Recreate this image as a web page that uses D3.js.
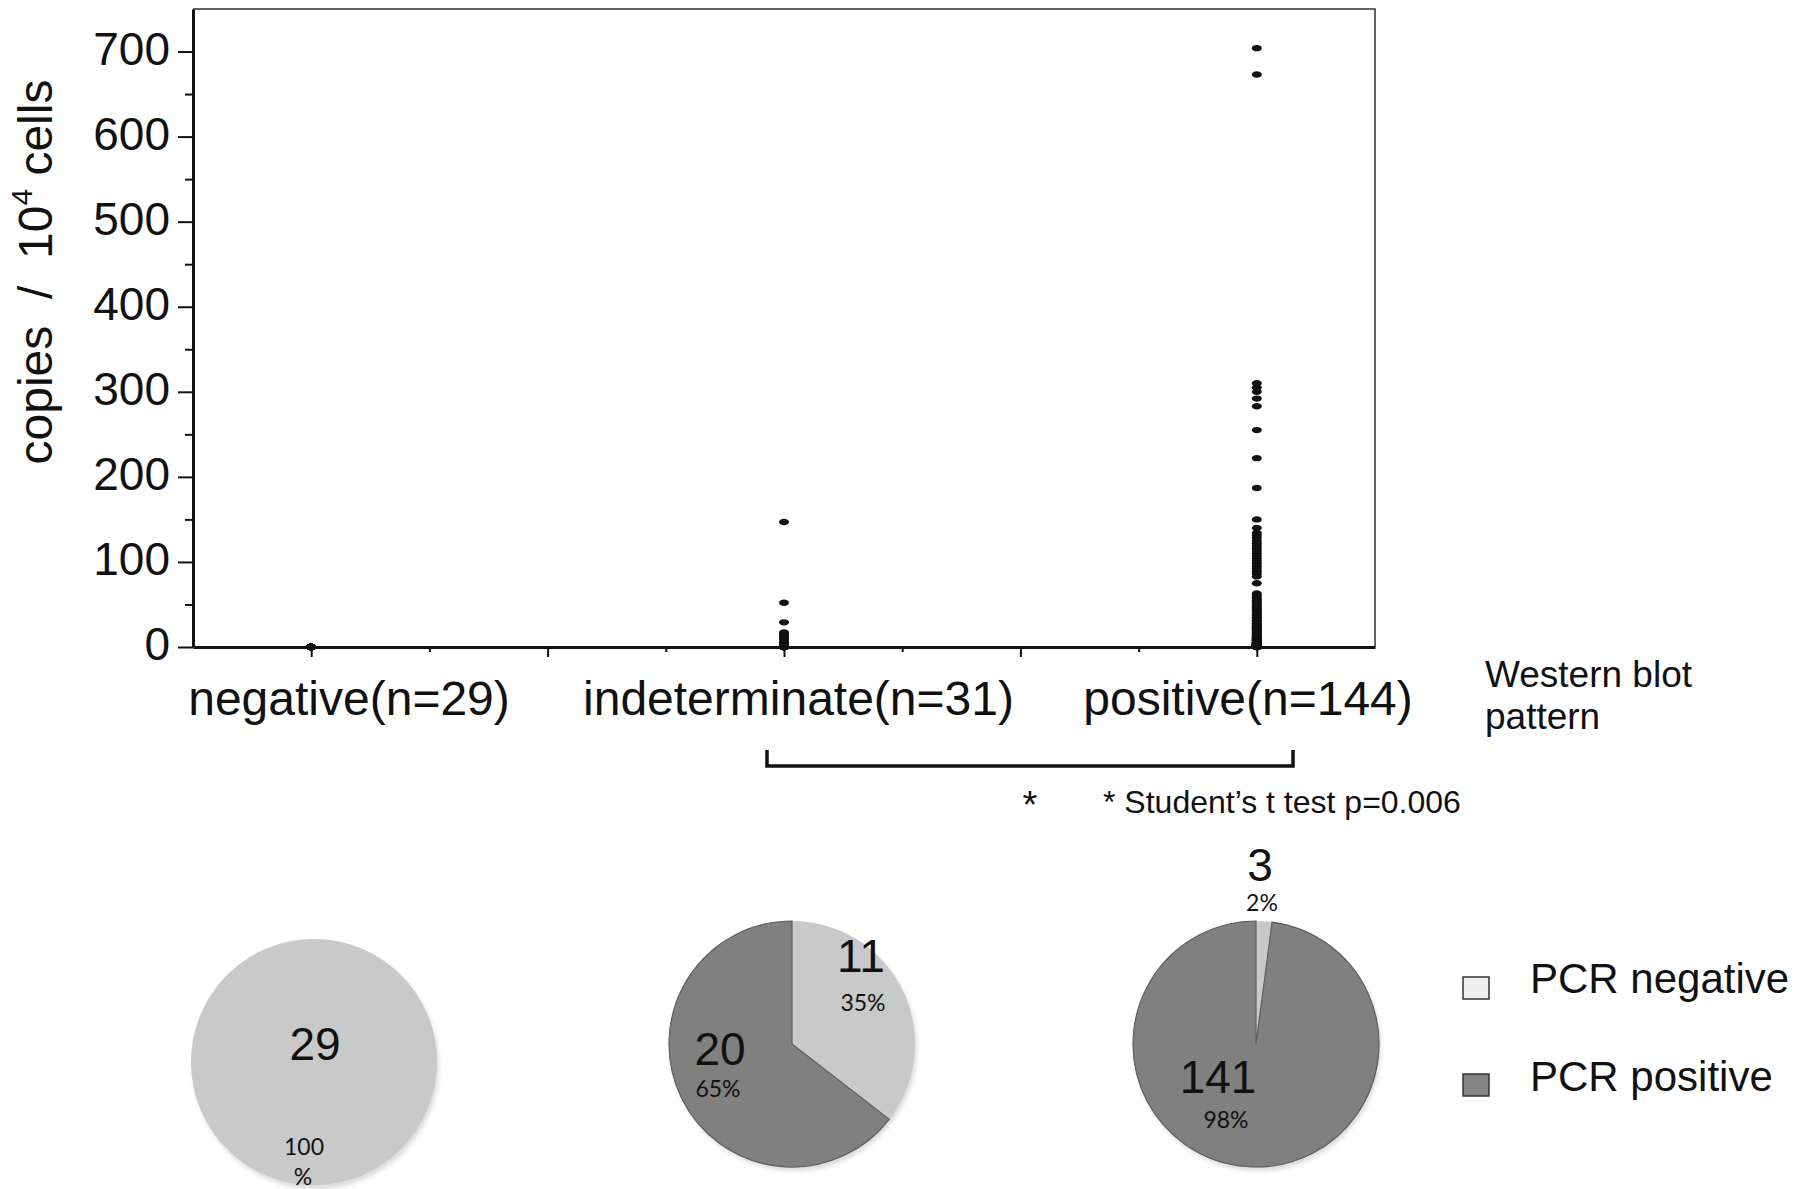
<!DOCTYPE html>
<html>
<head>
<meta charset="utf-8">
<script src="https://cdn.jsdelivr.net/npm/d3@7"></script>
<style>
  body { margin: 0; background: #fff; }
  text { font-family: "Liberation Sans", Arial, sans-serif; fill: #111; }
  .pct { font-family: Lato, "Open Sans", sans-serif; }
</style>
</head>
<body>
<svg id="chart" width="1815" height="1189"></svg>
<script>
// ---- data ----
const categories = ["negative(n=29)", "indeterminate(n=31)", "positive(n=144)"];
const yTickValues = [0, 100, 200, 300, 400, 500, 600, 700];

// copies / 10^4 cells, one entry per sample
const negativeValues = [0,0,0,0,0,0,0,0,0,0,0,0,0,0,0,0,0,0,0,0,0,0,0,0,0,0,0,0,0];
const indeterminateValues = [147, 52, 29, 17, 15, 13, 11, 9, 7, 5, 4, 3, 2, 2, 1, 1, 0.5, 0.5, 0.2, 0.1,
                             0,0,0,0,0,0,0,0,0,0,0];
const positiveValues = [704, 673, 310, 305, 300, 292, 283, 255, 222, 187, 150, 140,
  134, 131, 128, 125, 122, 119, 116, 113, 110, 107, 104, 101, 98, 95, 92, 89, 86, 83, 75,
  63, 61, 59, 57, 55, 53, 52, 50, 48, 46, 45, 43, 41, 40, 38, 37, 35, 34, 32, 31, 30, 28,
  27, 26, 25, 24, 23, 22, 21, 20, 19, 18, 17, 16, 15, 14, 13, 12, 12, 11, 11, 10, 10, 9, 9,
  8, 8, 7, 7, 7, 6, 6, 6, 5, 5, 5, 5, 4, 4, 4, 4, 3, 3, 3, 3, 3, 2, 2, 2, 2, 2, 2,
  1.5, 1.5, 1.5, 1.5, 1, 1, 1, 1, 1, 1, 1, 0.8, 0.8, 0.8, 0.6, 0.6, 0.6, 0.5, 0.5, 0.5,
  0.4, 0.4, 0.4, 0.3, 0.3, 0.3, 0.2, 0.2, 0.2, 0.1, 0.1, 0.1, 0.1, 0.05, 0.05, 0, 0, 0];

// PCR result per western blot group
const pcrNegative = [29, 11, 3];
const pcrPositive = [0, 20, 141];
const pctNegative = [["100", "%"], ["35%"], ["2%"]];
const pctPositive = [[], ["65%"], ["98%"]];
const legendLabels = ["PCR negative", "PCR positive"];

// ---- layout ----
const svg = d3.select("#chart");
const plot = {left: 193, right: 1375, top: 9, bottom: 647};
const lightGray = "#c9c9c9", darkGray = "#808080";

let x = d3.scaleLinear().domain([0.75, 3.25]).range([plot.left, plot.right]);
let y = d3.scaleLinear().domain([0, 750]).range([plot.bottom, plot.top]);

// frame (thin top + right)
svg.append("path")
   .attr("d", `M${plot.left},${plot.top}H${plot.right}V${plot.bottom}`)
   .attr("fill", "none").attr("stroke", "#333").attr("stroke-width", 1.5);

// y axis
let yAxis = svg.append("g").attr("transform", `translate(${plot.left},0)`)
   .call(d3.axisLeft(y).tickValues(yTickValues).tickSize(15).tickPadding(8).tickSizeOuter(0));
yAxis.selectAll("text").attr("font-size", 46).attr("font-family", "Liberation Sans, Arial, sans-serif")
     .attr("dy", "0.28em").attr("fill", "#111");
svg.append("g").attr("transform", `translate(${plot.left},0)`)
   .call(d3.axisLeft(y).tickValues(d3.range(50, 700, 100)).tickSize(8).tickFormat("").tickSizeOuter(0))
   .select(".domain").remove();

// x axis
svg.append("g").attr("transform", `translate(0,${plot.bottom})`)
   .call(d3.axisBottom(x).tickValues([1, 1.5, 2, 2.5, 3]).tickSize(10).tickFormat("").tickSizeOuter(0));
svg.append("g").attr("transform", `translate(0,${plot.bottom})`)
   .call(d3.axisBottom(x).tickValues([1.25, 1.75, 2.25, 2.75]).tickSize(5).tickFormat("").tickSizeOuter(0))
   .select(".domain").remove();
svg.selectAll(".domain").attr("stroke", "#111").attr("stroke-width", 3);
svg.selectAll(".tick line").attr("stroke", "#111").attr("stroke-width", 2);

// x labels
let xl = d3.scalePoint().domain(categories).range([349, 1248]);
svg.selectAll(".xlab").data(categories).enter().append("text")
   .attr("class", "xlab")
   .attr("x", d => xl(d)).attr("y", 715)
   .attr("text-anchor", "middle").attr("font-size", 48)
   .text(d => d);

svg.append("text").attr("x", 1485).attr("y", 687).attr("font-size", 37).text("Western blot");
svg.append("text").attr("x", 1485).attr("y", 729).attr("font-size", 37).text("pattern");

// y title
let yt = svg.append("text")
   .attr("transform", "translate(52,272) rotate(-90)")
   .attr("text-anchor", "middle").attr("font-size", 48);
yt.append("tspan").text("copies\u00a0\u00a0/\u00a0\u00a010");
yt.append("tspan").attr("font-size", 30).attr("dy", -20).text("4");
yt.append("tspan").attr("dy", 20).text("\u00a0cells");

// scatter points
let points = [];
[negativeValues, indeterminateValues, positiveValues].forEach(function(vals, i) {
    vals.forEach(function(v) { points.push({g: i + 1, v: v}); });
});
svg.append("g").selectAll("ellipse").data(points).enter().append("ellipse")
   .attr("cx", d => x(d.g)).attr("cy", d => y(d.v))
   .attr("rx", 5).attr("ry", 3.2).attr("fill", "#111");

// bracket + significance
svg.append("path").attr("d", "M767,750V766H1293V750")
   .attr("fill", "none").attr("stroke", "#111").attr("stroke-width", 3.5);
svg.append("text").attr("x", 1030).attr("y", 818).attr("text-anchor", "middle")
   .attr("font-size", 38).text("*");
svg.append("text").attr("x", 1103).attr("y", 813).attr("font-size", 32)
   .text("* Student\u2019s t test p=0.006");

// pies
const pieCenters = [[314, 1062], [792, 1044], [1256, 1044]];
const r = 123;
const numOffsets = [[[1, -2]], [[69, -72], [-72, 21]], [[4, -163], [-38, 49]]];
const pctOffsets = [[[-10, 93], [-11, 123]], [[71, -33], [-74, 53]], [[6, -133], [-30, 84]]];

let defs = svg.append("defs");
defs.append("filter").attr("id", "blur").append("feGaussianBlur").attr("stdDeviation", 2);

let pie = d3.pie().sort(null).value(d => d.v);
let arc = d3.arc().innerRadius(0).outerRadius(r);

pieCenters.forEach(function(c, i) {
    let g = svg.append("g").attr("transform", `translate(${c[0]},${c[1]})`);
    g.append("circle").attr("cx", 2).attr("cy", 4).attr("r", r)
     .attr("fill", "#dcdcdc").attr("filter", "url(#blur)");
    let slices = pie([{k: "neg", v: pcrNegative[i]}, {k: "pos", v: pcrPositive[i]}])
                 .filter(d => d.value > 0);
    g.selectAll("path").data(slices).enter().append("path")
     .attr("d", arc)
     .attr("fill", d => d.data.k === "neg" ? lightGray : darkGray)
     .attr("stroke", d => d.data.k === "neg" ? "none" : "#5e5e5e")
     .attr("stroke-width", 1.2);

    let counts = [pcrNegative[i], pcrPositive[i]].filter(v => v > 0);
    counts.forEach(function(v, j) {
        g.append("text").attr("x", numOffsets[i][j][0]).attr("y", numOffsets[i][j][1])
         .attr("text-anchor", "middle").attr("font-size", 46).text(v);
    });
    let pcts = pctNegative[i].length > 1 ? pctNegative[i] : pctNegative[i].concat(pctPositive[i]);
    pcts.forEach(function(t, j) {
        g.append("text").attr("class", "pct")
         .attr("x", pctOffsets[i][j][0]).attr("y", pctOffsets[i][j][1])
         .attr("text-anchor", "middle").attr("font-size", 23).text(t);
    });
});

// legend
let lg = svg.append("g");
legendLabels.forEach(function(t, i) {
    lg.append("rect").attr("x", 1463).attr("y", 977 + i * 97).attr("width", 26).attr("height", 22)
      .attr("fill", i === 0 ? "#efefef" : "#858585").attr("stroke", "#333").attr("stroke-width", 1.5);
    lg.append("text").attr("x", 1530).attr("y", 993 + i * 98).attr("font-size", 42).text(t);
});
</script>
</body>
</html>
